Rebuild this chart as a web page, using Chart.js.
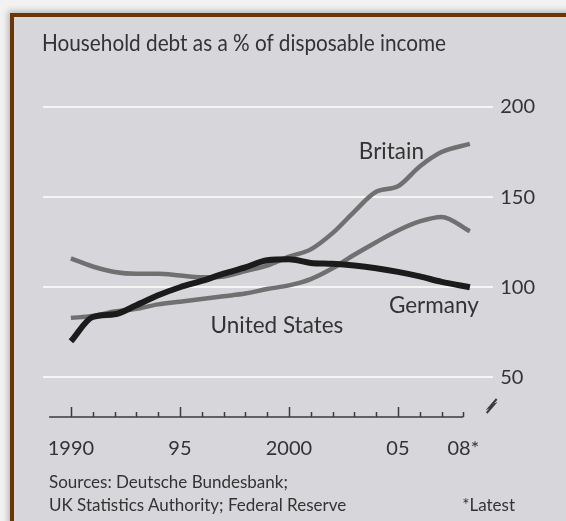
<!DOCTYPE html>
<html>
<head>
<meta charset="utf-8">
<script src="https://cdn.jsdelivr.net/npm/chart.js@4.4.1/dist/chart.umd.min.js"></script>
<style>
  html, body { margin: 0; padding: 0; }
  body { width: 566px; height: 521px; background: #f2f2f2; position: relative; overflow: hidden; font-family: Lato, sans-serif; }
  #frame { position: absolute; left: 10px; top: 13px; width: 600px; height: 520px;
           border-top: 4px solid #6b3508; border-left: 4px solid #6b3508;
           background: #d7d7db; box-shadow: -2px -2px 6px rgba(0,0,0,0.25); }
  #chart { position: absolute; left: 0; top: 0; }
  .txt { position: absolute; color: #333; white-space: nowrap; }
  #title { left: 42px; top: 27px; font-size: 24px; transform: scaleX(0.865); transform-origin: left top; }
  #src1 { left: 49px; top: 471px; font-size: 17px; }
  #src2 { left: 49px; top: 494px; font-size: 17px; }
  #latest { right: 51px; top: 494px; font-size: 17px; }
</style>
</head>
<body>
<div id="frame"></div>
<canvas id="chart" width="566" height="521"></canvas>
<div class="txt" id="title">Household debt as a % of disposable income</div>
<div class="txt" id="src1">Sources: Deutsche Bundesbank;</div>
<div class="txt" id="src2">UK Statistics Authority; Federal Reserve</div>
<div class="txt" id="latest">*Latest</div>
<script>
// datos (ultimo punto = dato mas reciente de 2008)
const years = [1990, 1991, 1992, 1993, 1994, 1995, 1996, 1997, 1998, 1999, 2000, 2001, 2002, 2003, 2004, 2005, 2006, 2007, 2008.3];
const germany = [70, 83.5, 85, 90, 95.5, 100, 103.5, 107.5, 111, 115, 115.5, 113.5, 113, 112, 110.5, 108.5, 106, 103, 100];
const britain = [116, 111.5, 108.5, 107.5, 107.5, 106.5, 105.5, 106, 109, 112, 117, 121, 130, 142, 153, 156, 167, 175, 179.5];
const unitedStates = [83, 84, 86.5, 88, 90.5, 92, 93.5, 95, 96.5, 99, 101, 104.5, 110.5, 118, 125, 131.5, 136.5, 139, 131];

const xTicks = [1990, 1995, 2000, 2005, 2008];
const xTickLabels = ["1990", "95", "2000", "05", "08*"];
const yTicks = [50, 100, 150, 200];

const seriesLabels = [
  { text: "Britain", x: 2004.7, y: 175.3 },
  { text: "Germany", x: 2006.65, y: 90 },
  { text: "United States", x: 1999.45, y: 78.8 },
];

function points(values) {
  return values.map((v, i) => ({ x: years[i], y: v }));
}

// eje inferior con marcas hacia arriba, simbolo de corte y nombres de series
const extras = {
  id: "extras",
  afterDatasetsDraw(chart) {
    const ctx = chart.ctx;
    const xs = chart.scales.x;
    const ys = chart.scales.y;
    const base = chart.chartArea.bottom;
    ctx.save();
    ctx.strokeStyle = "#3b3b3b";
    ctx.lineWidth = 1.5;
    ctx.beginPath();
    ctx.moveTo(xs.getPixelForValue(1989), base);
    ctx.lineTo(xs.getPixelForValue(2008), base);
    for (let yr = 1990; yr <= 2008; yr++) {
      const px = Math.round(xs.getPixelForValue(yr)) + 0.5;
      const len = yr % 5 === 0 ? 10 : 5;
      ctx.moveTo(px, base);
      ctx.lineTo(px, base - len);
    }
    ctx.stroke();

    // simbolo de corte del eje
    const bx = xs.getPixelForValue(2009.3);
    const by = base - 11;
    ctx.lineWidth = 2;
    ctx.beginPath();
    ctx.moveTo(bx - 5, by + 7);
    ctx.lineTo(bx + 2, by - 1);
    ctx.lineTo(bx - 2, by + 1);
    ctx.lineTo(bx + 5, by - 7);
    ctx.stroke();

    ctx.fillStyle = "#333";
    ctx.font = "22.5px Lato";
    ctx.textAlign = "center";
    ctx.textBaseline = "middle";
    seriesLabels.forEach((l) => {
      ctx.fillText(l.text, xs.getPixelForValue(l.x), ys.getPixelForValue(l.y));
    });
    ctx.restore();
  },
};

const chrt = document.getElementById("chart").getContext("2d");
new Chart(chrt, {
  type: "line",
  data: {
    datasets: [
      {
        label: "Germany",
        data: points(germany),
        borderColor: "#1b1b1b",
        borderWidth: 6,
      },
      {
        label: "Britain",
        data: points(britain),
        borderColor: "#707070",
        borderWidth: 4.5,
      },
      {
        label: "United States",
        data: points(unitedStates),
        borderColor: "#707070",
        borderWidth: 4.5,
      },
    ],
  },
  options: {
    responsive: false,
    animation: false,
    layout: {
      padding: { left: 43, right: 24, top: 107, bottom: 40 },
    },
    elements: {
      point: { radius: 0 },
      line: { cubicInterpolationMode: "monotone", borderJoinStyle: "round" },
    },
    plugins: {
      legend: { display: false },
      tooltip: { enabled: false },
    },
    scales: {
      x: {
        type: "linear",
        min: 1988.72,
        max: 2009.37,
        afterBuildTicks: (scale) => {
          scale.ticks = xTicks.map((v) => ({ value: v }));
        },
        ticks: {
          autoSkip: false,
          maxRotation: 0,
          padding: 20,
          color: "#333",
          font: { family: "Lato", size: 20 },
          callback: (v) => xTickLabels[xTicks.indexOf(v)],
        },
        grid: { display: false, drawTicks: false },
        border: { display: false },
      },
      y: {
        position: "right",
        min: 28,
        max: 200,
        afterBuildTicks: (scale) => {
          scale.ticks = yTicks.map((v) => ({ value: v }));
        },
        ticks: {
          padding: 7,
          color: "#333",
          font: { family: "Lato", size: 20 },
        },
        grid: { color: "#f5f5f5", lineWidth: 2, drawTicks: false },
        border: { display: false },
      },
    },
  },
  plugins: [extras],
});
</script>
</body>
</html>
